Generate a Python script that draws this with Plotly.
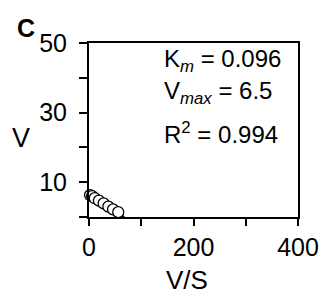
import plotly.graph_objects as go

vs = [2, 6, 11, 19, 28, 37, 46, 56]
v = [6.3, 6.0, 5.4, 4.7, 3.9, 3.0, 2.2, 1.4]
fit_x = [0, 67.7]
fit_y = [6.5, 0]
y_ticks = [0, 10, 20, 30, 40, 50]
y_text = ["", "10", "", "30", "", "50"]
x_ticks = [0, 100, 200, 300, 400]
x_text = ["0", "", "200", "", "400"]

font = "Liberation Sans, Arial, sans-serif"

fig = go.Figure()
fig.add_trace(go.Scatter(x=fit_x, y=fit_y, mode="lines",
                         line=dict(color="black", width=1.5), showlegend=False))
fig.add_trace(go.Scatter(x=vs, y=v, mode="markers",
                         marker=dict(symbol="circle", size=11, color="white",
                                     line=dict(color="black", width=1.3)),
                         showlegend=False, cliponaxis=False))

fig.update_layout(
    width=322, height=294,
    margin=dict(l=89, r=24, t=43, b=77),
    paper_bgcolor="white", plot_bgcolor="white",
    font=dict(family=font, size=25, color="black"),
    xaxis=dict(range=[0, 400], tickvals=x_ticks, ticktext=x_text,
               ticks="outside", ticklen=7, tickwidth=1.5, tickcolor="black",
               showline=True, linecolor="black", linewidth=2, mirror=True,
               showgrid=False, zeroline=False, ticklabelstandoff=0,
               automargin=False),
    yaxis=dict(range=[0, 50], tickvals=y_ticks, ticktext=y_text,
               ticks="outside", ticklen=8, tickwidth=1.5, tickcolor="black",
               showline=True, linecolor="black", linewidth=2, mirror=True,
               showgrid=False, zeroline=False, ticklabelstandoff=7,
               automargin=False),
)

ann = [
    ("K<sub><i>m</i></sub> = 0.096", 0.90),
    ("V<sub><i>max</i></sub> = 6.5", 0.715),
    ("R<sup>2</sup> = 0.994", 0.48),
]
for txt, yy in ann:
    fig.add_annotation(x=0.35, y=yy, xref="paper", yref="paper", text=txt,
                       showarrow=False, xanchor="left", yanchor="middle",
                       font=dict(size=24, family=font))

fig.add_annotation(x=-0.30, y=1.086, xref="paper", yref="paper", text="<b>C</b>",
                   showarrow=False, xanchor="center", yanchor="middle",
                   font=dict(size=25, family=font))
fig.add_annotation(x=-0.325, y=0.454, xref="paper", yref="paper", text="V",
                   showarrow=False, xanchor="center", yanchor="middle",
                   font=dict(size=27, family=font))
fig.add_annotation(x=0.469, y=-0.36, xref="paper", yref="paper", text="V/S",
                   showarrow=False, xanchor="center", yanchor="middle",
                   font=dict(size=26, family=font))

fig.write_html("out.html", config={"displayModeBar": False},
               post_script="document.body.style.margin='0';"
                           "document.body.style.overflow='hidden';")
